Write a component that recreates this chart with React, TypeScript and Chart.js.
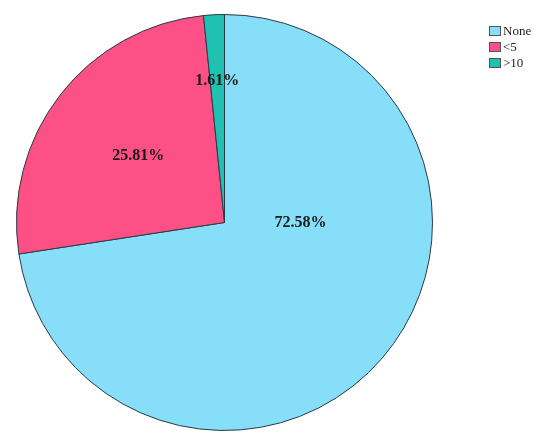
import React, { useEffect, useRef } from "react";
import { Chart, registerables } from "chart.js";

Chart.register(...registerables);

const categories = ["None", "<5", ">10"];
const values = [72.58, 25.81, 1.61];
const valueLabels = ["72.58%", "25.81%", "1.61%"];
const colors = ["#86DEF8", "#FD5086", "#20C1B1"];
// label placement: angle (deg clockwise from top, null = slice middle) and fraction of radius
const labelAngles: (number | null)[] = [90, null, null];
const labelRadii = [0.365, 0.525, 0.683];

const labelPlugin = {
  id: "sliceLabels",
  afterDatasetsDraw(chart: any) {
    const ctx = chart.ctx;
    const meta = chart.getDatasetMeta(0);
    ctx.save();
    ctx.font = "bold 16px 'Liberation Serif', serif";
    ctx.fillStyle = "#1a1a1a";
    ctx.textAlign = "center";
    ctx.textBaseline = "middle";
    meta.data.forEach((arc: any, i: number) => {
      const p = arc.getProps(["x", "y", "startAngle", "endAngle", "outerRadius"], true);
      let ang: number;
      const ov = labelAngles[i];
      if (ov === null || ov === undefined) ang = (p.startAngle + p.endAngle) / 2;
      else ang = (ov * Math.PI) / 180 - Math.PI / 2;
      const r = p.outerRadius * labelRadii[i];
      ctx.fillText(valueLabels[i], p.x + Math.cos(ang) * r, p.y + Math.sin(ang) * r);
    });
    ctx.restore();
  },
};

const legendPlugin = {
  id: "customLegend",
  afterDraw(chart: any) {
    const ctx = chart.ctx;
    ctx.save();
    const x0 = 489;
    const y0 = 26;
    const step = 16;
    ctx.font = "13px 'Liberation Serif', serif";
    ctx.textAlign = "left";
    ctx.textBaseline = "middle";
    categories.forEach((c, i) => {
      const y = y0 + i * step;
      ctx.fillStyle = colors[i];
      ctx.fillRect(x0, y, 12, 10);
      ctx.strokeStyle = "#555";
      ctx.lineWidth = 1;
      ctx.strokeRect(x0 + 0.5, y + 0.5, 11, 9);
      ctx.fillStyle = "#222";
      ctx.fillText(c, x0 + 14, y + 5.5);
    });
    ctx.restore();
  },
};

export default function App() {
  const ref = useRef<HTMLCanvasElement>(null);
  useEffect(() => {
    document.body.style.margin = "0";
    const chart = new Chart(ref.current!, {
      type: "pie",
      data: {
        labels: categories,
        datasets: [
          {
            data: values,
            backgroundColor: colors,
            borderColor: "#2a3a45",
            borderWidth: 1,
          },
        ],
      },
      options: {
        responsive: false,
        animation: false,
        layout: { padding: { left: 16, right: 117, top: 14, bottom: 16 } },
        plugins: {
          legend: { display: false },
          tooltip: { enabled: false },
        },
      },
      plugins: [labelPlugin, legendPlugin],
    });
    return () => chart.destroy();
  }, []);
  return (
    <div style={{ width: 550, height: 447, background: "#fff" }}>
      <canvas ref={ref} width={550} height={447} />
    </div>
  );
}
